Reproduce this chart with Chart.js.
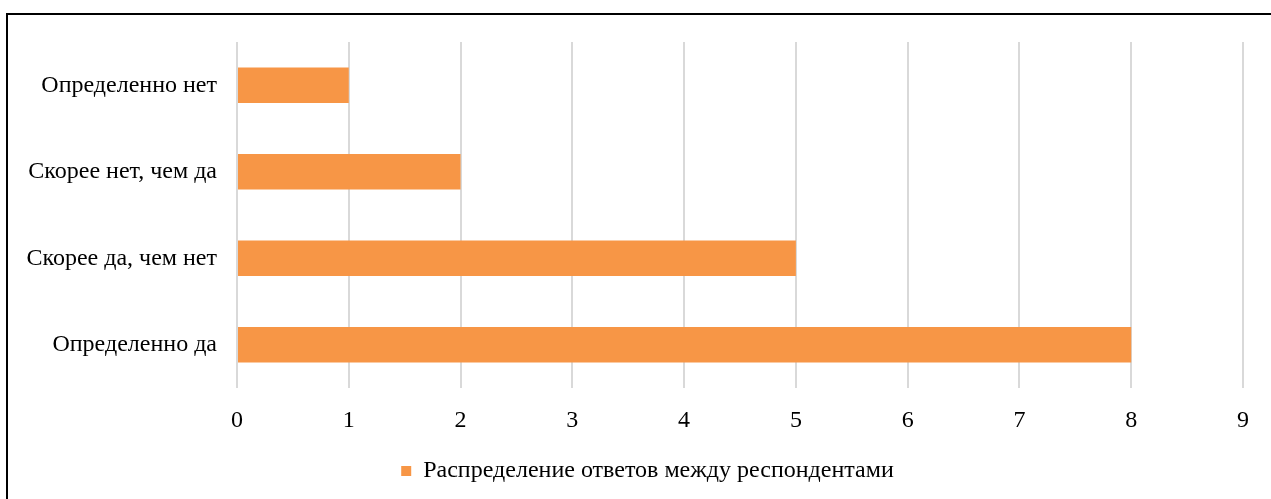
<!DOCTYPE html>
<html>
<head>
<meta charset="utf-8">
<script src="https://cdn.jsdelivr.net/npm/chart.js@4"></script>
<style>
    html, body { margin: 0; padding: 0; background: #fff; overflow: hidden; }
    #wrap { position: relative; width: 1271px; height: 499px; }
    #frame { position: absolute; left: 6px; top: 13px; width: 1300px; height: 520px; border: 2px solid #000; box-sizing: border-box; pointer-events: none; }
    canvas { position: absolute; left: 0; top: 0; }
</style>
</head>
<body>
<div id="wrap">
    <canvas id="chartRespostas" width="1271" height="499"></canvas>
    <div id="frame"></div>
</div>
<script>
/* Bar chart: respostas */
const categorias = ['Определенно нет', 'Скорее нет, чем да', 'Скорее да, чем нет', 'Определенно да'];
const valores    = [1, 2, 5, 8];
const serieNome  = 'Распределение ответов между респондентами';
const eixoX      = [0, 1, 2, 3, 4, 5, 6, 7, 8, 9];

const fonte = { family: '"Liberation Serif", "Times New Roman", serif', size: 24 };

// legenda centrada na moldura, não na área do gráfico
const deslocaLegenda = {
    id: 'deslocaLegenda',
    afterLayout(chart) {
        if (!chart.legend) return;
        chart.legend.left  += 26;
        chart.legend.right += 26;
    }
};

new Chart(document.getElementById('chartRespostas'), {
    type: 'bar',
    data: {
        labels: categorias,
        datasets: [{
            label: serieNome,
            data: valores,
            backgroundColor: '#f79646',
            borderWidth: 0,
            categoryPercentage: 1,
            barPercentage: 0.41,
        }]
    },
    options: {
        indexAxis: 'y',
        responsive: false,
        animation: false,
        layout: { padding: { top: 42, right: 28, left: 0, bottom: 6 } },
        plugins: {
            legend: {
                position: 'bottom',
                labels: { boxWidth: 10, boxHeight: 10, color: '#000', font: fonte, padding: 10 }
            },
            tooltip: { enabled: false }
        },
        scales: {
            x: {
                min: eixoX[0],
                max: eixoX[eixoX.length - 1],
                ticks: { stepSize: 1, color: '#000', font: fonte, padding: 18 },
                grid: { color: '#d9d9d9', lineWidth: 2, drawTicks: false },
                border: { display: false },
                afterFit: s => { s.height = 61; }
            },
            y: {
                ticks: { color: '#000', font: fonte, padding: 20 },
                grid: { display: false, drawTicks: false },
                border: { display: false },
                afterFit: s => { s.width = 237; }
            }
        }
    },
    plugins: [deslocaLegenda]
});
</script>
</body>
</html>
